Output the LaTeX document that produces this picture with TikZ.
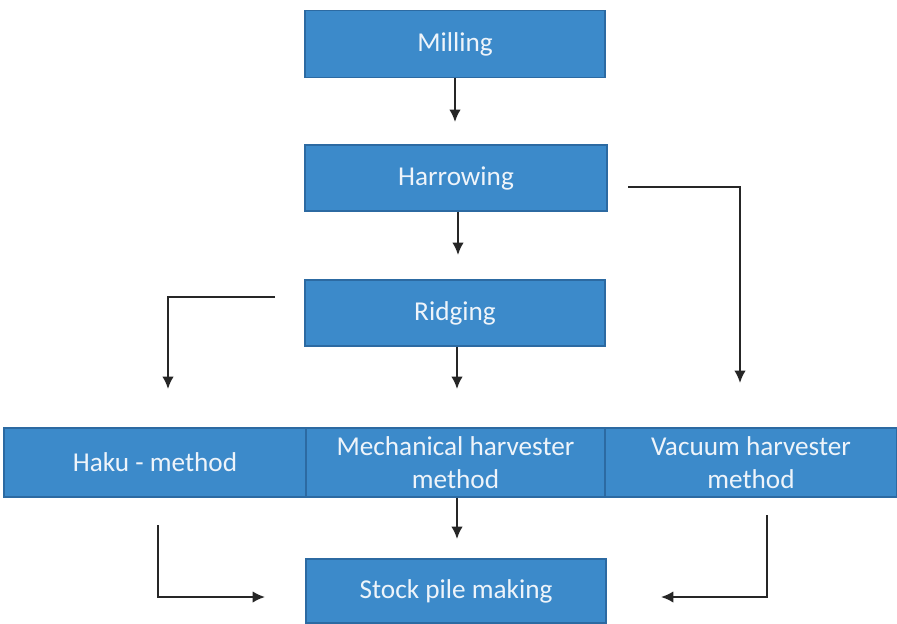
\documentclass[tikz,border=0pt]{standalone}
\usepackage{fontspec}
\setmainfont{Carlito}
\usetikzlibrary{arrows.meta,calc}
\definecolor{boxblue}{HTML}{3C8ACA}
\definecolor{boxedge}{HTML}{2C6AA2}
\definecolor{boxtext}{HTML}{EEF4FA}
\tikzset{
	stage/.style={rectangle, draw=boxedge, fill=boxblue, line width=0.8pt, text=boxtext, align=center, font=\fontsize{15.5}{19}\selectfont, inner sep=0pt},
	flow/.style={-{Latex[length=7pt,width=6.5pt]}, line width=1.1pt, black!85}
}

\begin{document}
\begin{tikzpicture}[x=0.02cm, y=-0.02cm]
\useasboundingbox (0,0) rectangle (897,623);
\node[stage, minimum width=300*0.02cm, minimum height=67*0.02cm](mill) at (455,44){Milling};
\node[stage, minimum width=302*0.02cm, minimum height=66*0.02cm](harrow) at (456,178){Harrowing};
\node[stage, minimum width=300*0.02cm, minimum height=66*0.02cm](ridge) at (455,313){Ridging};
\node[stage, minimum width=302*0.02cm, minimum height=69*0.02cm](haku) at (155,462.5){Haku - method};
\node[stage, minimum width=299*0.02cm, minimum height=69*0.02cm](mech) at (455.5,462.5){Mechanical harvester\\method};
\node[stage, minimum width=292*0.02cm, minimum height=69*0.02cm](vac) at (751,462.5){Vacuum harvester\\method};
\node[stage, minimum width=300*0.02cm, minimum height=64*0.02cm](stock) at (456,591){Stock pile making};

% free ends of the connectors
\coordinate (m1) at (455,122);
\coordinate (h1) at (458,255);
\coordinate (r1) at (457,389);
\coordinate (l0) at (275,297);
\coordinate (l1) at (168,389);
\coordinate (v0) at (628,187);
\coordinate (v1) at (740,383);
\coordinate (s1) at (457,539);
\coordinate (k0) at (158,525);
\coordinate (k1) at (265,597);
\coordinate (c0) at (767,515);
\coordinate (c1) at (661,597);

\draw[flow](mill.south)to(m1);
\draw[flow](harrow.south-|h1)to(h1);
\draw[flow](ridge.south-|r1)to(r1);
\draw[flow](l0)-|(l1);
\draw[flow](v0)-|(v1);
\draw[flow](mech.south-|s1)to(s1);
\draw[flow](k0)|-(k1);
\draw[flow](c0)|-(c1);
\end{tikzpicture}
\end{document}
